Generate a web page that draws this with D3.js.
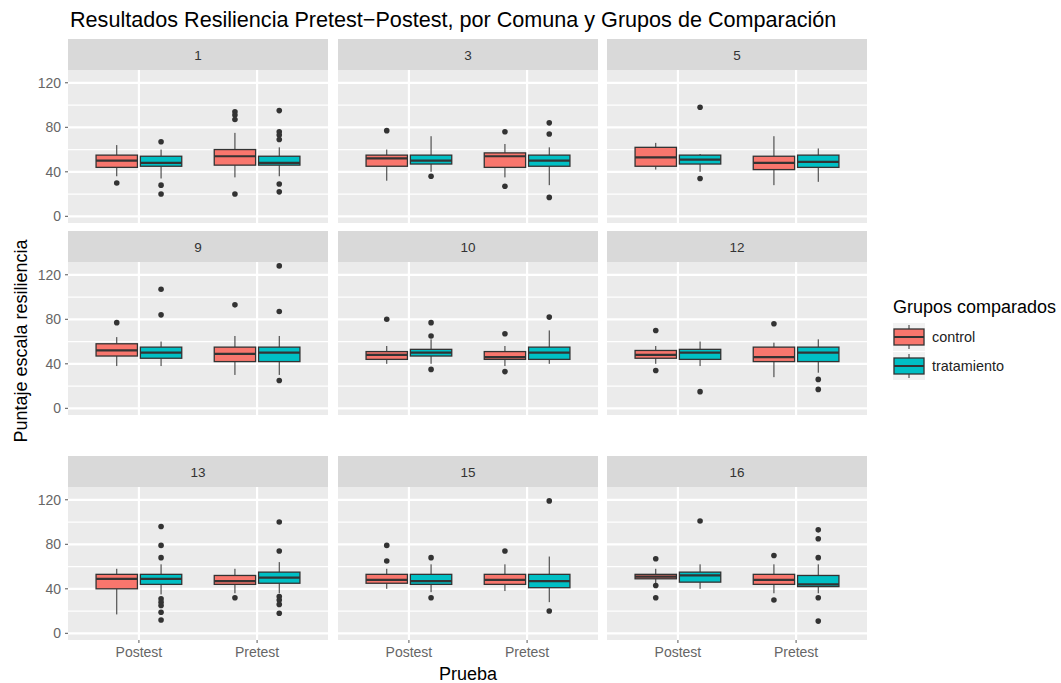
<!DOCTYPE html>
<html><head><meta charset="utf-8">
<script src="https://cdn.jsdelivr.net/npm/d3@7"></script>
<style>body{margin:0;background:#fff;font-family:"Liberation Sans",Arial,sans-serif;}</style>
</head><body><svg id="c" width="1061" height="683"></svg>
<script>
const comunas = ["1","3","5","9","10","12","13","15","16"];
const pruebas = ["Postest","Pretest"];
const grupos = ["control","tratamiento"];
const yTicks = [0,40,80,120];
const yMinor = [20,60,100];
// [comuna, prueba, grupo, lowerWhisker, q1, median, q3, upperWhisker]
const boxStats = [
 ["1","Postest","control",36,44,50,55,64],["1","Postest","tratamiento",34,45,48,54,60],
 ["1","Pretest","control",35,46,54,60,75],["1","Pretest","tratamiento",36,46,48,54,62],
 ["3","Postest","control",32,45,52,55,60],["3","Postest","tratamiento",40,47,50,55,72],
 ["3","Pretest","control",35,44,54,57,65],["3","Pretest","tratamiento",28,45,50,55,62],
 ["5","Postest","control",42,45,53,62,66],["5","Postest","tratamiento",40,47,51,55,56],
 ["5","Pretest","control",28,42,48,54,72],["5","Pretest","tratamiento",31,44,49,55,61],
 ["9","Postest","control",38,47,52,58,64],["9","Postest","tratamiento",38,45,50,55,60],
 ["9","Pretest","control",30,42,49,55,65],["9","Pretest","tratamiento",30,42,50,55,65],
 ["10","Postest","control",40,44,48,51,56],["10","Postest","tratamiento",40,47,50,53,62],
 ["10","Pretest","control",38,44,46,51,56],["10","Pretest","tratamiento",40,44,50,55,70],
 ["12","Postest","control",40,45,48,52,56],["12","Postest","tratamiento",38,44,50,53,60],
 ["12","Pretest","control",28,42,46,55,59],["12","Pretest","tratamiento",32,42,50,55,62],
 ["13","Postest","control",17,40,49,53,58],["13","Postest","tratamiento",35,44,49,53,62],
 ["13","Pretest","control",36,44,47,52,58],["13","Pretest","tratamiento",36,45,50,55,64],
 ["15","Postest","control",40,45,48,53,58],["15","Postest","tratamiento",37,44,47,53,62],
 ["15","Pretest","control",38,44,48,53,62],["15","Pretest","tratamiento",28,41,47,53,69],
 ["16","Postest","control",45,49,51,53,58],["16","Postest","tratamiento",40,46,52,55,62],
 ["16","Pretest","control",36,44,48,53,62],["16","Pretest","tratamiento",36,42,44,52,62]
];
// [comuna, prueba, grupo, outlier values]
const outliers = [
 ["1","Postest","control",[30]],["1","Postest","tratamiento",[67,28,20]],
 ["1","Pretest","control",[94,91,87,20]],["1","Pretest","tratamiento",[95,76,73,69,29,22]],
 ["3","Postest","control",[77]],["3","Postest","tratamiento",[36]],
 ["3","Pretest","control",[76,27]],["3","Pretest","tratamiento",[84,74,17]],
 ["5","Postest","tratamiento",[98,34]],
 ["9","Postest","control",[77]],["9","Postest","tratamiento",[107,84]],
 ["9","Pretest","control",[93]],["9","Pretest","tratamiento",[128,87,25]],
 ["10","Postest","control",[80]],["10","Postest","tratamiento",[77,65,35]],
 ["10","Pretest","control",[67,33]],["10","Pretest","tratamiento",[82]],
 ["12","Postest","control",[70,34]],["12","Postest","tratamiento",[15]],
 ["12","Pretest","control",[76]],["12","Pretest","tratamiento",[26,17]],
 ["13","Postest","tratamiento",[96,79,68,31,28,25,19,12]],
 ["13","Pretest","control",[32]],["13","Pretest","tratamiento",[100,74,33,30,26,18]],
 ["15","Postest","control",[79,65]],["15","Postest","tratamiento",[68,32]],
 ["15","Pretest","control",[74]],["15","Pretest","tratamiento",[119,20]],
 ["16","Postest","control",[67,43,32]],["16","Postest","tratamiento",[101]],
 ["16","Pretest","control",[70,30]],["16","Pretest","tratamiento",[93,85,68,32,11]]
];
const colors = {"control":"#F8766D","tratamiento":"#00BFC4"};

const svg = d3.select("#c");
const colX = [68,338,607], panelW = 260;
const stripTop = [39,231,456], stripH = 31, panelH = 153;
const y0 = d3.scaleLinear().domain([-6,131.5]).range([panelH,0]);
const xs = d3.scaleLinear().domain([0.4,2.6]).range([0,panelW]);
const dodge = d3.scaleBand().domain(grupos).range([-0.375,0.375]);
const boxW = 0.35;

svg.append("text").attr("x",70).attr("y",27).attr("font-size",21.6).attr("fill","#000")
  .text("Resultados Resiliencia Pretest−Postest, por Comuna y Grupos de Comparación");

comunas.forEach((c,i)=>{
  const col=i%3,row=Math.floor(i/3);
  const gx=colX[col], st=stripTop[row], pt=st+stripH;
  const g=svg.append("g").attr("transform",`translate(${gx},${pt})`);
  svg.append("rect").attr("x",gx).attr("y",st).attr("width",panelW).attr("height",stripH).attr("fill","#D9D9D9");
  svg.append("text").attr("x",gx+panelW/2).attr("y",st+stripH/2+5).attr("text-anchor","middle")
    .attr("font-size",13.5).attr("fill","#333").text(c);
  g.append("rect").attr("width",panelW).attr("height",panelH).attr("fill","#EBEBEB");
  yMinor.forEach(v=>g.append("line").attr("x1",0).attr("x2",panelW).attr("y1",y0(v)).attr("y2",y0(v)).attr("stroke","#fff").attr("stroke-width",1.2));
  yTicks.forEach(v=>g.append("line").attr("x1",0).attr("x2",panelW).attr("y1",y0(v)).attr("y2",y0(v)).attr("stroke","#fff").attr("stroke-width",2.2));
  pruebas.forEach((p,j)=>g.append("line").attr("x1",xs(j+1)).attr("x2",xs(j+1)).attr("y1",0).attr("y2",panelH).attr("stroke","#fff").attr("stroke-width",2.2));
  const toPx = (j,grp,off)=>xs(j+1+dodge(grp)+dodge.bandwidth()/2+(off||0));
  boxStats.filter(d=>d[0]===c).forEach(d=>{
    const j=pruebas.indexOf(d[1]);
    const cx=toPx(j,d[2]);
    const l=toPx(j,d[2],-boxW/2), r=toPx(j,d[2],boxW/2);
    g.append("line").attr("x1",cx).attr("x2",cx).attr("y1",y0(d[3])).attr("y2",y0(d[4])).attr("stroke","#333").attr("stroke-width",1);
    g.append("line").attr("x1",cx).attr("x2",cx).attr("y1",y0(d[6])).attr("y2",y0(d[7])).attr("stroke","#333").attr("stroke-width",1);
    g.append("rect").attr("x",l).attr("width",r-l).attr("y",y0(d[6])).attr("height",y0(d[4])-y0(d[6]))
      .attr("fill",colors[d[2]]).attr("stroke","#333").attr("stroke-width",1.3);
    g.append("line").attr("x1",l).attr("x2",r).attr("y1",y0(d[5])).attr("y2",y0(d[5])).attr("stroke","#333").attr("stroke-width",2.2);
  });
  outliers.filter(d=>d[0]===c).forEach(d=>{
    const j=pruebas.indexOf(d[1]);
    const cx=toPx(j,d[2]);
    d[3].forEach(v=>g.append("circle").attr("cx",cx).attr("cy",y0(v)).attr("r",2.8).attr("fill","#333"));
  });
  if(col===0){
    yTicks.forEach(v=>{
      g.append("line").attr("x1",-3).attr("x2",0).attr("y1",y0(v)).attr("y2",y0(v)).attr("stroke","#555");
      g.append("text").attr("x",-7).attr("y",y0(v)+5).attr("text-anchor","end").attr("font-size",14).attr("fill","#666").text(v);
    });
  }
  if(row===2){
    pruebas.forEach((p,j)=>{
      g.append("line").attr("x1",xs(j+1)).attr("x2",xs(j+1)).attr("y1",panelH).attr("y2",panelH+3).attr("stroke","#555");
      g.append("text").attr("x",xs(j+1)).attr("y",panelH+17).attr("text-anchor","middle").attr("font-size",14).attr("fill","#666").text(p);
    });
  }
});

svg.append("text").attr("transform","translate(27,341) rotate(-90)").attr("text-anchor","middle")
  .attr("font-size",18).attr("fill","#000").text("Puntaje escala resiliencia");
svg.append("text").attr("x",468).attr("y",680).attr("text-anchor","middle")
  .attr("font-size",18).attr("fill","#000").text("Prueba");

// legend
const lg=svg.append("g").attr("transform","translate(893,0)");
lg.append("text").attr("x",0).attr("y",313).attr("font-size",18).attr("fill","#000").text("Grupos comparados");
grupos.forEach((grp,k)=>{
  const cy=337+k*29;
  lg.append("rect").attr("x",0).attr("y",cy-14).attr("width",32).attr("height",28).attr("fill","#F2F2F2");
  lg.append("line").attr("x1",16).attr("x2",16).attr("y1",cy-12).attr("y2",cy+12).attr("stroke","#333");
  lg.append("rect").attr("x",1).attr("y",cy-8).attr("width",30).attr("height",16).attr("fill",colors[grp]).attr("stroke","#333").attr("stroke-width",1.3);
  lg.append("line").attr("x1",1).attr("x2",31).attr("y1",cy).attr("y2",cy).attr("stroke","#333").attr("stroke-width",2);
  lg.append("text").attr("x",39).attr("y",cy+5).attr("font-size",14.4).attr("fill","#222").text(grp);
});
</script></body></html>
